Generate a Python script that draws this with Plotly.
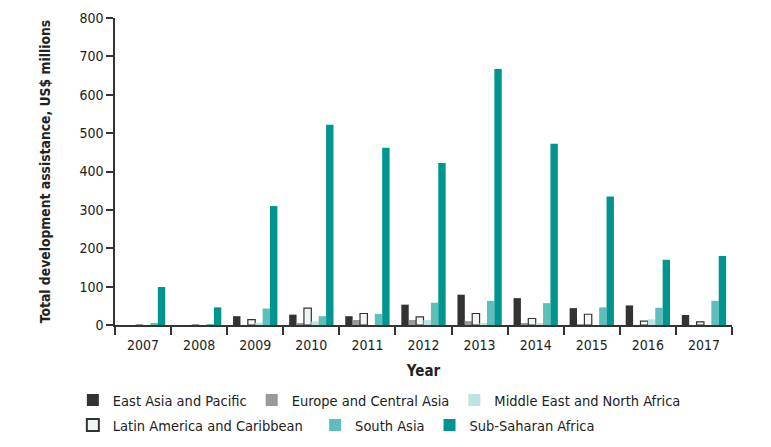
import plotly.graph_objects as go

years = ["2007", "2008", "2009", "2010", "2011", "2012", "2013", "2014", "2015", "2016", "2017"]

east_asia_pacific = [0, 0, 23, 27, 23, 53, 79, 70, 44, 51, 26]
europe_central_asia = [0, 0, 0, 4, 13, 13, 10, 3, 1, 0, 0]
latin_america_caribbean = [0, 0, 14, 44, 30, 21, 30, 17, 28, 10, 8]
middle_east_north_africa = [0, 0, 6, 9, 0, 13, 5, 3, 0, 15, 0]
south_asia = [4, 1, 43, 23, 29, 58, 63, 57, 46, 45, 63]
sub_saharan_africa = [99, 46, 310, 522, 462, 422, 667, 472, 335, 170, 180]

FONT = "DejaVu Sans Condensed, Liberation Sans Narrow, sans-serif"

series = [
    ("East Asia and Pacific", east_asia_pacific, "#333333", None, "legend"),
    ("Europe and Central Asia", europe_central_asia, "#999999", None, "legend"),
    ("Latin America and Caribbean", latin_america_caribbean, "#eef7f6", "#333333", "legend2"),
    ("Middle East and North Africa", middle_east_north_africa, "#bfe3e2", None, "legend"),
    ("South Asia", south_asia, "#5dbfba", None, "legend3"),
    ("Sub-Saharan Africa", sub_saharan_africa, "#00968f", None, "legend3"),
]

fig = go.Figure()
for name, vals, color, line, lg in series:
    fig.add_trace(go.Bar(
        name=name, x=years, y=vals,
        marker=dict(color=color,
                    line=dict(color=line if line else color, width=1.2 if line else 0)),
        legend=lg,
    ))

legend_common = dict(
    orientation="h", xanchor="left", yanchor="middle",
    xref="container", yref="container",
    font=dict(family=FONT, size=14.5, color="#222222"),
    bgcolor="rgba(0,0,0,0)", itemsizing="constant",
)

fig.update_layout(
    width=763, height=439,
    margin=dict(l=107, r=39, t=10, b=122, autoexpand=False),
    paper_bgcolor="white", plot_bgcolor="white",
    barmode="group", bargap=0.21, bargroupgap=0,
    font=dict(family=FONT, size=14, color="#222222"),
    showlegend=True,
    legend=dict(x=0.085, y=0.107, **legend_common),
    legend2=dict(x=0.085, y=0.050, **legend_common),
    legend3=dict(x=0.4025, y=0.050, **legend_common),
    xaxis=dict(
        type="category", tickson="boundaries", ticks="outside", ticklen=8,
        tickwidth=1.5, tickcolor="#333333", showline=True, linecolor="#333333",
        linewidth=1.5, showgrid=False, zeroline=False, automargin=False,
        ticklabelstandoff=6,
        tickfont=dict(family=FONT, size=14, color="#222222"),
        title=dict(text="<b>Year</b>", font=dict(family=FONT, size=15, color="#222222"), standoff=14),
    ),
    yaxis=dict(
        range=[0, 800], dtick=100, ticks="outside", ticklen=7, tickwidth=1.5,
        tickcolor="#333333", showline=True, linecolor="#333333", linewidth=1.5,
        showgrid=False, zeroline=False, automargin=False,
        tickfont=dict(family=FONT, size=14, color="#222222"),
        title=dict(text="<b>Total development assistance, US$ millions</b>",
                   font=dict(family=FONT, size=13.8, color="#222222"), standoff=26),
    ),
)

fig.write_html("out.html")
